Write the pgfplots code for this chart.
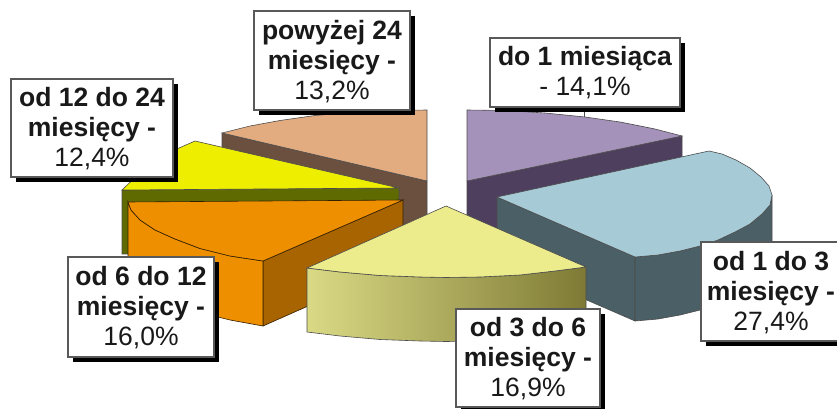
\documentclass[border=0pt]{standalone}
\usepackage{pgfplots}
\pgfplotsset{compat=1.18}
\usepackage{fontspec}
\setmainfont{Liberation Sans}
\definecolor{cPeach}{HTML}{E2AB80}
\definecolor{cBrown}{HTML}{6B4F3F}
\definecolor{cPurple}{HTML}{A592BA}
\definecolor{cPurpleD}{HTML}{4F3F5F}
\definecolor{cTeal}{HTML}{A6CBD7}
\definecolor{cTealD}{HTML}{4A5F66}
\definecolor{cLY}{HTML}{ECEC8C}
\definecolor{cLYa}{HTML}{DADA85}
\definecolor{cLYb}{HTML}{B5B06D}
\definecolor{cLYc}{HTML}{7E7A35}
\definecolor{cOrange}{HTML}{EE8F00}
\definecolor{cOrangeD}{HTML}{A86400}
\definecolor{cYellow}{HTML}{EEEE00}
\definecolor{cOlive}{HTML}{5F6B00}
\newcommand{\lab}[4]{\node[align=center,inner sep=0pt,font=\fontsize{26.5}{30}\selectfont,text=black!90] at (axis cs:#1,#2) {\textbf{#3}\\#4};}
\newcommand{\labb}[5]{\node[align=center,inner sep=0pt,font=\fontsize{26.5}{30}\selectfont,text=black!90] at (axis cs:#1,#2) {\textbf{#3}\\\textbf{#4}\\#5};}
\begin{document}
\begin{tikzpicture}
\begin{axis}[scale only axis,width=837pt,height=409pt,xmin=0,xmax=837,ymin=0,ymax=409,y dir=reverse,hide axis,
  clip=true,
  edge/.style={draw=black!70,line width=0.6pt},
  shadowbox/.style={fill=black,draw=none,forget plot},
  labbox/.style={fill=white,draw=black!65,line width=1.1pt,forget plot}]
% --- powyzej 24
\addplot[edge,fill=cBrown,forget plot] coordinates {(222,133)(427,181)(427,245)(222,197)} -- cycle;
\addplot[edge,fill=cPeach,forget plot] coordinates {(222,133)(250,126)(280,120.5)(315,115.5)(350,112.5)(390,110.5)(427,110)(427,181)} -- cycle;
% --- do 1 miesiaca
\addplot[edge,fill=cPurpleD,forget plot] coordinates {(467,181)(682,136)(682,200)(467,245)} -- cycle;
\addplot[edge,fill=cPurple,forget plot] coordinates {(467,110)(505,110.5)(545,113)(585,117)(620,122)(655,129)(682,136)(467,181)} -- cycle;
\addplot[draw=black!70,line width=0.8pt,forget plot] coordinates {(584,107)(584,117)};
% --- od 12 do 24
\addplot[edge,fill=cOlive,forget plot] coordinates {(122,190)(399,188)(399,252)(122,254)} -- cycle;
\addplot[edge,fill=cYellow,forget plot] coordinates {(122,190)(145,168)(170,152)(195,141)(399,188)} -- cycle;
% --- od 6 do 12
\addplot[draw=black!70!cOrangeD,line width=0.6pt,fill=cOrangeD,forget plot] coordinates {(263,261)(403,200)(403,264)(263,326)} -- cycle;
\addplot[draw=black!70!cOrangeD,line width=0.6pt,fill=cOrange,forget plot] coordinates {(128,202)(131,210)(140,220)(155,230)(175,239)(200,248.5)(230,256)(263,261)(263,326)(230,320)(200,312.5)(175,303)(155,294)(140,284)(131,274)(128,266)} -- cycle;
\addplot[draw=black!70!cOrangeD,line width=0.6pt,fill=cOrange,forget plot] coordinates {(128,202)(403,200)(263,261)(230,256)(200,248.5)(175,239)(155,230)(140,220)(131,210)} -- cycle;
% --- od 1 do 3
\addplot[edge,fill=cTealD,forget plot] coordinates {(497,197)(635,257)(635,321)(497,261)} -- cycle;
\addplot[edge,fill=cTealD,forget plot] coordinates {(772,195)(770,205)(762,214)(750,224)(735,232)(718,240)(700,246)(680,251)(658,255)(635,257)(635,321)(658,319)(680,315)(700,310)(718,304)(735,296)(750,288)(762,278)(770,269)(772,259)} -- cycle;
\addplot[edge,fill=cTeal,forget plot] coordinates {(497,197)(709,151)(722,154)(736,160)(750,168)(761,177)(769,186)(772,195)(770,205)(762,214)(750,224)(735,232)(718,240)(700,246)(680,251)(658,255)(635,257)} -- cycle;
% --- od 3 do 6
\addplot[draw=black!70,line width=0.6pt,left color=cLYa,middle color=cLYb,right color=cLYc,forget plot] coordinates {(307,268)(340,272)(380,275.5)(420,277)(446,277.5)(480,277)(520,275)(555,271)(586,267)(586,331)(555,335)(520,339)(480,341)(446,341.5)(420,341)(380,339.5)(340,336)(307,332)} -- cycle;
\addplot[edge,fill=cLY,forget plot] coordinates {(446,206)(586,267)(555,271)(520,275)(480,277)(446,277.5)(420,277)(380,275.5)(340,272)(307,268)} -- cycle;
% --- label boxes: shadow, then box
\addplot[shadowbox] coordinates {(259,16)(415,16)(415,115)(259,115)} -- cycle;
\addplot[labbox] coordinates {(254,11)(410,11)(410,110)(254,110)} -- cycle;
\addplot[shadowbox] coordinates {(16,84)(178,84)(178,182)(16,182)} -- cycle;
\addplot[labbox] coordinates {(11,79)(173,79)(173,177)(11,177)} -- cycle;
\addplot[shadowbox] coordinates {(495,43)(685,43)(685,112)(495,112)} -- cycle;
\addplot[labbox] coordinates {(490,38)(680,38)(680,107)(490,107)} -- cycle;
\addplot[shadowbox] coordinates {(73,262)(219,262)(219,362)(73,362)} -- cycle;
\addplot[labbox] coordinates {(68,257)(214,257)(214,357)(68,357)} -- cycle;
\addplot[shadowbox] coordinates {(461,314)(605,314)(605,412)(461,412)} -- cycle;
\addplot[labbox] coordinates {(456,309)(600,309)(600,407)(456,407)} -- cycle;
\addplot[shadowbox] coordinates {(706,247)(845,247)(845,346)(706,346)} -- cycle;
\addplot[labbox] coordinates {(701,242)(845,242)(845,341)(701,341)} -- cycle;
% --- labels
\labb{332}{62}{powyżej 24}{miesięcy -}{13,2\%}
\labb{92}{129}{od 12 do 24}{miesięcy -}{12,4\%}
\lab{585}{73}{do 1 miesiąca}{- 14,1\%}
\labb{141}{308}{od 6 do 12}{miesięcy -}{16,0\%}
\labb{528}{359}{od 3 do 6}{miesięcy -}{16,9\%}
\labb{771}{292.5}{od 1 do 3}{miesięcy -}{27,4\%}
\end{axis}
\pgfresetboundingbox
\path[use as bounding box] (0,0) rectangle (837pt,409pt);
\end{tikzpicture}
\end{document}
